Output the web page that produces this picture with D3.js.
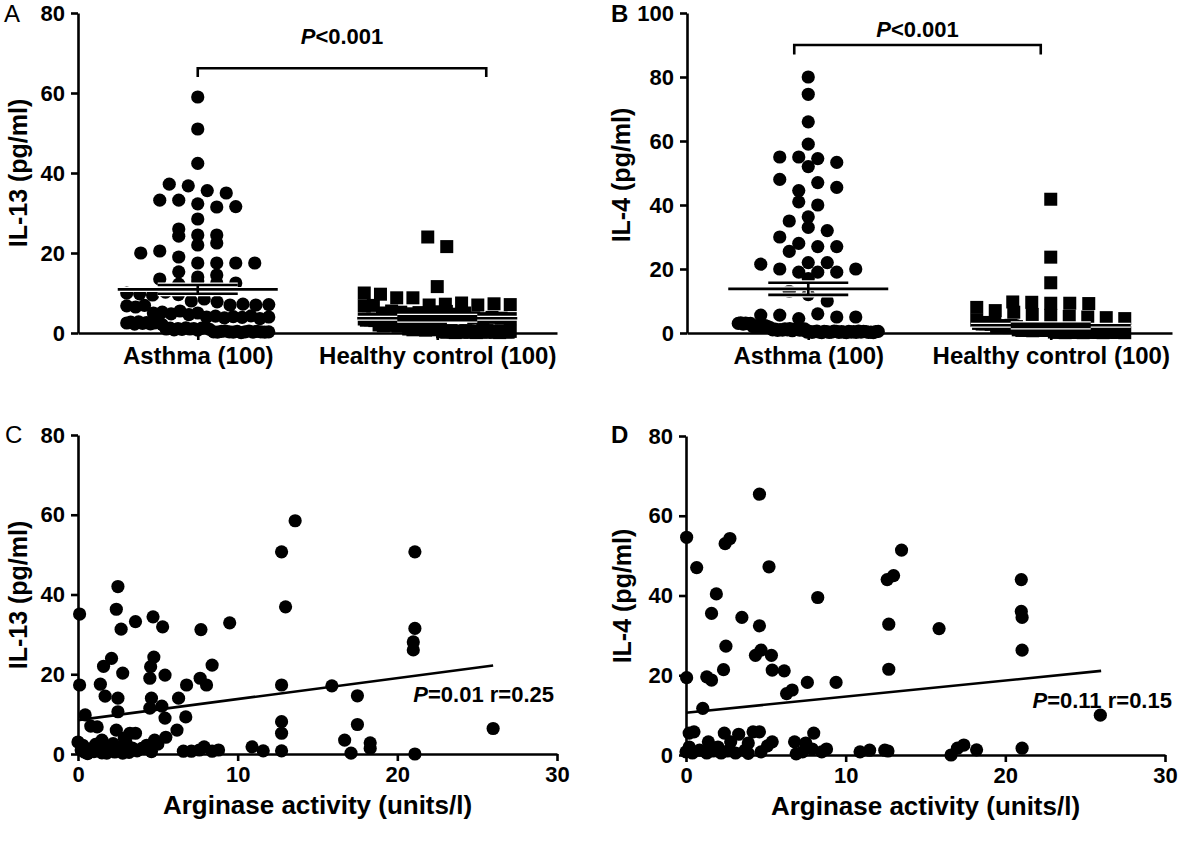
<!DOCTYPE html>
<html>
<head>
<meta charset="utf-8">
<script src="https://cdn.jsdelivr.net/npm/d3@7"></script>
<style>
  body { margin: 0; background: #fff; }
  svg { font-family: "Liberation Sans", Arial, Helvetica, sans-serif; font-weight: bold; }
</style>
</head>
<body>
<div id="fig"></div>
<script>
// ---- data ----
const groups = ["Asthma (100)", "Healthy control (100)"];

const il13Asthma = [59, 51, 42.4, 37.2, 36.8, 35.6, 35, 33.2, 33.2, 32.3, 31.5, 31.6, 28.5, 26, 24.5, 24.5, 24.2, 22, 22.5, 20,
  20.5, 19, 17.5, 17.5, 17.5, 17.5, 15.3, 14, 14.5, 13.5, 12.2, 13, 12.5, 12.5,
  10, 9.8, 9.5, 10.2, 9.6, 8, 8.5, 7.8, 7, 6.8, 7.2, 6.5, 7, 6.9, 7.1, 5, 5.2, 4.8, 5.5, 4.6, 5,
  4, 4.2, 3.8, 4.1, 3.9, 4.3, 3.6, 4, 2.5, 2.7, 2.2, 2.8, 2.4, 2.6, 2.3, 2.5, 2.9, 2.1,
  1, 1.2, 0.8, 1.1, 0.9, 1.3, 1, 1.1, 0.7, 1.2, 1.4, 0.9,
  0.3, 0.2, 0.4, 0.5, 0.3, 0.2, 0.4, 0.1, 0.3, 0.5, 0.2, 0.4, 0.3, 0.2, 0.3];
const il13Control = [24, 21.6, 11.6, 10, 9.7, 8.8, 8.8, 7, 7.2, 6.8, 7.5, 7, 6.9, 7.3, 7.1,
  5, 5.5, 5.2, 4.8, 5.1, 4.9, 5.3, 5.4, 4.7, 5, 3.5, 3.8, 3.2, 3.6, 3.4, 3.9, 3.3, 3.7, 3.5, 3.1, 3.6, 3.4,
  2, 2.2, 1.8, 2.4, 2.1, 1.9, 2.3, 2, 2.5, 1.7, 2.2, 2.1, 2.4, 1.9,
  1, 1.2, 0.8, 1.1, 0.9, 1.3, 1, 1.4, 0.7, 1.2, 1.1, 0.9, 1, 1.3, 0.8, 1.2,
  0.3, 0.5, 0.2, 0.4, 0.6, 0.3, 0.1, 0.5, 0.4, 0.2, 0.3, 0.6, 0.5, 0.2, 0.4, 0.3, 0.1, 0.5, 0.3, 0.4,
  0.2, 0.6, 0.3, 0.5, 0.4, 0.2, 0.3, 0.1, 0.4, 0.5, 0.3, 0.2, 0.4];
const il13Mean = [10.9, 3.7];
const il13Sem = [1.1, 0.5];

const il4Asthma = [80, 74.6, 66, 59, 55, 55, 54.5, 53.3, 52, 48, 44.5, 47, 45.5, 41, 40, 36.3, 35, 33, 32, 30,
  28, 27, 25.5, 27, 21.5, 20, 19, 22, 22, 19, 19, 20, 17, 13, 12, 10,
  5.6, 5.6, 4.5, 6, 5, 5, 3, 3.2, 2.8, 3.1, 2.9, 3, 2, 2.2, 1.8, 2.1, 1.9, 2.3, 2, 1.7,
  1, 1.2, 0.8, 1.1, 0.9, 1.3, 1, 1.4, 0.7, 1.2, 1.1, 0.9, 1, 1.3,
  0.3, 0.5, 0.2, 0.4, 0.6, 0.3, 0.1, 0.5, 0.4, 0.2, 0.3, 0.6, 0.5, 0.2, 0.4,
  0.3, 0.1, 0.5, 0.3, 0.4, 0.2, 0.6, 0.3, 0.5, 0.4, 0.2, 0.3, 0.1, 0.4, 0.5];
const il4Control = [41.8, 23.7, 15.7, 9.7, 9.6, 9.3, 9.3, 9.2, 8, 7, 6.5, 5.8, 5.5, 5.2, 5, 4.8, 4.5, 4,
  3, 3.2, 2.8, 3.1, 2.9, 3, 3.3, 2.7, 3, 3.1, 2, 2.2, 1.8, 2.1, 1.9, 2.3, 2, 1.7, 2.4, 2.2, 1.8, 2,
  1, 1.2, 0.8, 1.1, 0.9, 1.3, 1, 1.4, 0.7, 1.2, 1.1, 0.9, 1, 1.3, 0.8, 1.2, 1, 0.9, 1.1, 1.2,
  0.3, 0.5, 0.2, 0.4, 0.6, 0.3, 0.1, 0.5, 0.4, 0.2, 0.3, 0.6, 0.5, 0.2, 0.4, 0.3, 0.1, 0.5, 0.3, 0.4,
  0.2, 0.6, 0.3, 0.5, 0.4, 0.2, 0.3, 0.1, 0.4, 0.5, 0.3, 0.2, 0.4, 0.3, 0.5, 0.2, 0.4, 0.6, 0.3, 0.1];
const il4Mean = [13.8, 2.4];
const il4Sem = [1.9, 0.5];

// [arginase activity, cytokine]
const argIl13 = [[0.1, 35.1], [0.1, 17.3], [0.45, 9.8], [0.8, 7.0], [1.2, 6.8], [1.4, 17.5], [1.7, 14.5], [1.6, 22],
  [2.1, 24], [2.5, 42], [2.4, 36.3], [2.7, 31.3], [2.8, 20.3], [2.5, 14], [2.5, 10.6], [2.4, 6], [3.25, 5.2], [3.6, 5.2],
  [2.9, 4], [3.6, 33.2], [4.7, 34.4], [5.3, 31.9], [4.75, 24.3], [4.55, 21.9], [4.5, 19], [4.6, 14], [4.5, 11.5],
  [5.25, 12], [5.45, 19.8], [5.45, 9], [5.5, 4.2], [4.8, 3.5], [6.3, 14], [6.8, 17.3], [6.75, 9.3], [6.2, 6],
  [7.7, 31.2], [7.65, 19], [8.05, 17.3], [8.4, 22.3], [9.5, 32.9], [12.75, 50.7], [13.0, 36.9], [12.75, 17.3],
  [12.75, 8.1], [12.75, 5.2], [12.75, 0.8], [13.6, 58.5], [21.1, 50.7], [21.1, 31.5], [21.0, 28.1], [21.0, 26.1],
  [15.9, 17.1], [17.5, 14.6], [17.5, 7.4], [16.7, 3.5], [18.3, 2.8], [18.3, 1.4], [17.1, 0.2], [21.1, 0], [26.0, 6.4],
  [10.9, 1.8], [11.6, 0.8],
  [0, 3], [0.2, 1], [0.4, 0.5], [0.7, 1.2], [1.0, 0.6], [1.3, 1.3], [1.5, 0.3], [1.5, 3.5], [1.9, 1.2], [2.3, 0.5],
  [2.6, 1], [2.9, 2], [3.2, 0.4], [3.4, 1.5], [3.7, 0.8], [4.0, 1.4], [4.3, 2.2], [4.6, 0.6], [5.0, 2.5], [0.3, 2.2],
  [1.1, 2.4], [2.2, 2.6], [3.0, 3], [0.6, 0.1], [1.8, 0.2], [2.8, 0.2],
  [6.6, 0.7], [7.1, 0.7], [7.6, 1], [7.9, 1.8], [8.4, 0.7], [8.8, 1]];
const argIl4 = [[0.04, 54.6], [0.04, 19.4], [0.67, 47.0], [1.05, 11.7], [1.3, 19.6], [1.6, 18.8], [1.9, 40.4],
  [1.6, 35.5], [2.5, 27.3], [2.35, 21.4], [2.45, 53], [2.75, 54.3], [3.5, 34.5], [4.6, 65.4], [4.6, 32.4], [4.35, 25],
  [4.7, 26.3], [5.2, 47.2], [5.35, 25], [5.4, 21.3], [6.15, 21.1], [6.3, 15.4], [6.65, 16.3], [7.6, 18.2], [8.25, 39.5],
  [9.4, 18.2], [13.5, 51.4], [12.6, 44], [13.0, 45], [12.7, 32.8], [12.7, 21.5], [15.85, 31.7], [21.0, 44], [21.0, 36],
  [21.05, 34.5], [21.05, 26.3], [21.05, 1.7], [25.95, 10.0], [12.65, 1.0], [16.6, 0], [17.0, 1.7], [17.4, 2.5],
  [18.2, 1.3], [10.9, 0.8], [11.5, 1.2], [12.45, 1.2],
  [0.2, 5.5], [0.5, 5.8], [2.4, 5.5], [3.3, 5.2], [4.2, 5.8], [4.6, 5.8], [8.0, 5.5],
  [1.4, 3.3], [2.8, 3.3], [3.9, 3], [5.4, 3.3], [6.8, 3.3], [7.5, 3], [5.1, 2.3], [4.7, 0.8], [0.2, 2], [2.0, 2],
  [0.0, 0.8], [0.4, 0.5], [0.85, 1.2], [1.3, 0.5], [1.7, 1], [2.2, 0.5], [2.6, 1], [3.1, 0.5], [3.7, 1.2], [3.9, 0.4],
  [6.9, 0.3], [7.3, 0.8], [7.9, 1.5], [8.5, 0.8], [8.8, 1.5]];

// regression lines: [intercept, slope, last x]
const fitIl13 = [8.5, 0.527, 26];
const fitIl4 = [10.6, 0.404, 26];

const ticks80 = [0, 20, 40, 60, 80];
const ticks100 = [0, 20, 40, 60, 80, 100];
const ticksArg = [0, 10, 20, 30];

// ---- drawing ----
const svg = d3.select("#fig").append("svg")
  .attr("width", 1183)
  .attr("height", 841)
  .style("background", "#fff");

const DOT = 6.6;     // dot radius
const SQ = 13;       // square side

function styleAxis(a, fs) {
  a.attr("font-family", null).attr("font-size", fs);
  a.select(".domain").attr("stroke-width", 2.6);
  a.selectAll(".tick line").attr("stroke-width", 2.6);
}

function letter(t, x, y, bold) {
  svg.append("text").attr("x", x).attr("y", y)
    .attr("font-size", 24).attr("font-weight", bold ? "bold" : "normal")
    .text(t);
}

function yTitle(t, x, y) {
  svg.append("text")
    .attr("transform", `translate(${x},${y}) rotate(-90)`)
    .attr("text-anchor", "middle").attr("dy", "0.35em")
    .attr("font-size", 25)
    .text(t);
}

function statText(g, x, y, rest, anchor) {
  const t = g.append("text").attr("x", x).attr("y", y)
    .attr("font-size", 22).attr("text-anchor", anchor || "start");
  t.append("tspan").attr("font-style", "italic").text("P");
  t.append("tspan").text(rest);
}

// spread a column of values sideways, Prism style: bin by height, centre each row
function spread(values, y, cx, binPx, step, maxHalf) {
  const y0 = y(0);
  const bins = d3.groups(values, v => Math.floor((y0 - y(v)) / binPx));
  const out = [];
  for (const [, vs] of bins) {
    const n = vs.length;
    const s = n > 1 ? Math.min(step, 2 * maxHalf / (n - 1)) : 0;
    vs.forEach((v, i) => out.push({ v, px: cx + (i - (n - 1) / 2) * s, py: y(v) }));
  }
  return out;
}

function columnPanel(o) {
  const g = svg.append("g");
  const x = d3.scalePoint().domain(groups).range([o.left, o.right]).padding(0.5);
  const y = d3.scaleLinear().domain([0, o.yMax]).range([o.bottom, o.top]);

  const ax = g.append("g").attr("transform", `translate(0,${o.bottom})`)
    .call(d3.axisBottom(x).tickSize(7).tickSizeOuter(0).tickPadding(7));
  styleAxis(ax, 24);
  const ay = g.append("g").attr("transform", `translate(${o.left},0)`)
    .call(d3.axisLeft(y).tickValues(o.ticks).tickSize(7).tickSizeOuter(0).tickPadding(6));
  styleAxis(ay, 22);

  // asthma: circles
  g.append("g").selectAll("circle")
    .data(spread(o.series[0], y, x(groups[0]), 14, 19, o.half[0]))
    .join("circle")
    .attr("cx", d => d.px).attr("cy", d => d.py).attr("r", DOT);

  // controls: squares
  g.append("g").selectAll("rect")
    .data(spread(o.series[1], y, x(groups[1]), 14, 19, o.half[1]))
    .join("rect")
    .attr("x", d => d.px - SQ / 2).attr("y", d => d.py - SQ / 2)
    .attr("width", SQ).attr("height", SQ);

  // mean +/- SEM
  groups.forEach((grp, i) => {
    const cx = x(grp);
    const m = y(o.mean[i]), hi = y(o.mean[i] + o.sem[i]), lo = y(o.mean[i] - o.sem[i]);
    const segs = [[cx - 80, m, cx + 80, m], [cx - 40, hi, cx + 40, hi], [cx - 40, lo, cx + 40, lo], [cx, hi, cx, lo]];
    [["#fff", 5], ["#000", 2.6]].forEach(([c, w]) => {
      g.append("g").selectAll("line").data(segs).join("line")
        .attr("x1", d => d[0]).attr("y1", d => d[1]).attr("x2", d => d[2]).attr("y2", d => d[3])
        .attr("stroke", c).attr("stroke-width", w);
    });
  });

  // significance bracket
  const bx0 = x(groups[0]) + o.bracket[0], bx1 = x(groups[1]) + o.bracket[1];
  const by = y(o.bracket[2]), bdrop = y(o.bracket[3]);
  g.append("path")
    .attr("d", `M${bx0},${bdrop}V${by}H${bx1}V${bdrop}`)
    .attr("fill", "none").attr("stroke", "#000").attr("stroke-width", 2.6);
  statText(g, (bx0 + bx1) / 2, by - o.bracket[4], "<0.001", "middle");
}

function scatterPanel(o) {
  const g = svg.append("g");
  const x = d3.scaleLinear().domain([0, 30]).range([o.left, o.right]);
  const y = d3.scaleLinear().domain([0, 80]).range([o.bottom, o.top]);

  const ax = g.append("g").attr("transform", `translate(0,${o.bottom})`)
    .call(d3.axisBottom(x).tickValues(ticksArg).tickSize(7).tickSizeOuter(0).tickPadding(5));
  styleAxis(ax, 22);
  const ay = g.append("g").attr("transform", `translate(${o.left},0)`)
    .call(d3.axisLeft(y).tickValues(ticks80).tickSize(7).tickSizeOuter(0).tickPadding(6));
  styleAxis(ay, 22);

  g.append("g").selectAll("circle").data(o.points).join("circle")
    .attr("cx", d => x(d[0])).attr("cy", d => y(d[1])).attr("r", DOT);

  const [b0, b1, xEnd] = o.fit;
  g.append("line")
    .attr("x1", x(0)).attr("y1", y(b0))
    .attr("x2", x(xEnd)).attr("y2", y(b0 + b1 * xEnd))
    .attr("stroke", "#000").attr("stroke-width", 2.6);

  statText(g, x(o.label[0]), y(o.label[1]), o.label[2]);

  g.append("text")
    .attr("x", (o.left + o.right) / 2).attr("y", o.bottom + 60)
    .attr("text-anchor", "middle").attr("font-size", 26)
    .text("Arginase activity (units/l)");
}

columnPanel({ left: 78, right: 557, top: 13, bottom: 333, yMax: 80, ticks: ticks80,
  series: [il13Asthma, il13Control], mean: il13Mean, sem: il13Sem, half: [71, 73],
  bracket: [0, 49, 66.2, 64, 24] });
columnPanel({ left: 687, right: 1172, top: 13, bottom: 333, yMax: 100, ticks: ticks100,
  series: [il4Asthma, il4Control], mean: il4Mean, sem: il4Sem, half: [70, 74],
  bracket: [-14, -10, 90, 87, 8] });
scatterPanel({ left: 78, right: 557, top: 435, bottom: 754, points: argIl13, fit: fitIl13,
  label: [21.0, 13, "=0.01 r=0.25"] });
scatterPanel({ left: 686, right: 1165, top: 436, bottom: 755, points: argIl4, fit: fitIl4,
  label: [21.7, 11.8, "=0.11 r=0.15"] });

yTitle("IL-13 (pg/ml)", 18, 173);
yTitle("IL-4 (pg/ml)", 621, 175);
yTitle("IL-13 (pg/ml)", 18, 595);
yTitle("IL-4 (pg/ml)", 622, 596);

letter("A", 4, 22, false);
letter("B", 611, 22, true);
letter("C", 5, 443, false);
letter("D", 611, 443, true);
</script>
</body>
</html>
